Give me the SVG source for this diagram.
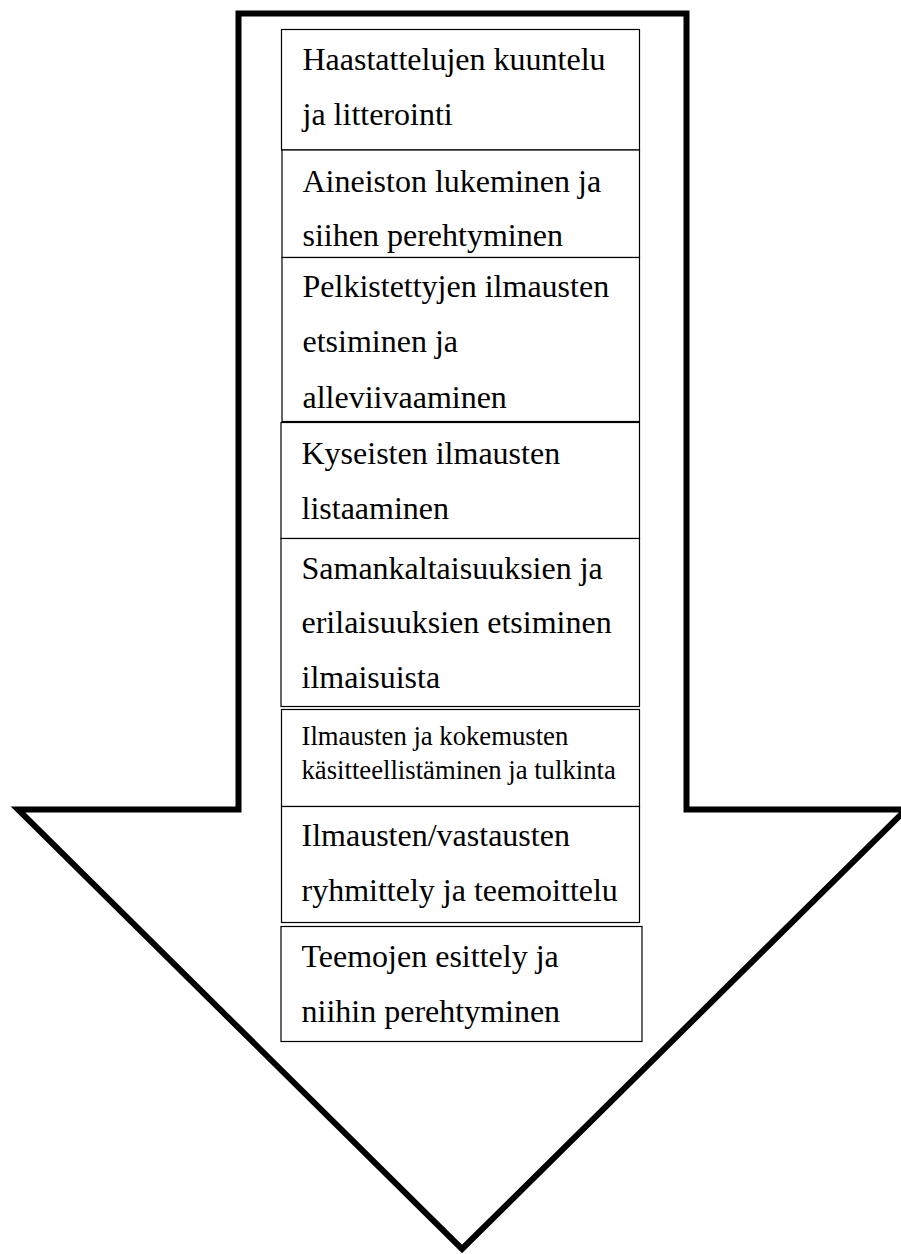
<svg xmlns="http://www.w3.org/2000/svg" width="901" height="1254" viewBox="0 0 901 1254">
<style>
.bx{fill:#fff;stroke:#000;stroke-width:1.2}
.t{font-family:"Liberation Serif","Times New Roman",serif;font-size:32px;fill:#000}
.s{font-family:"Liberation Serif","Times New Roman",serif;font-size:26.7px;fill:#000}
</style>
<rect width="901" height="1254" fill="#fff"/>
<g id="arrow">
<path d="M238.5,13.5 L686.5,13.5 L686.5,809.5 L906,809.5 L462,1249 L18,809.5 L238.5,809.5 Z" fill="#fff" stroke="#000" stroke-width="6"/>
</g>
<g id="connectors"></g>
<g id="n1"><rect class="bx" x="281.5" y="29.5" width="358" height="120.5"/>
<text class="t" x="302.5" y="69.5">Haastattelujen kuuntelu</text>
<text class="t" x="302.5" y="124.5">ja litterointi</text></g>
<g id="n2"><rect class="bx" x="282" y="150" width="357.5" height="107.5"/>
<text class="t" x="302.5" y="191.5">Aineiston lukeminen ja</text>
<text class="t" x="302.5" y="246">siihen perehtyminen</text></g>
<g id="n3"><rect class="bx" x="282" y="257.5" width="357.5" height="164"/>
<text class="t" x="302.5" y="296.5">Pelkistettyjen ilmausten</text>
<text class="t" x="302.5" y="352">etsiminen ja</text>
<text class="t" x="302.5" y="407.5">alleviivaaminen</text></g>
<g id="n4"><rect class="bx" x="281" y="422.5" width="358.5" height="116"/>
<text class="t" x="301.5" y="463.5">Kyseisten ilmausten</text>
<text class="t" x="301.5" y="518.5">listaaminen</text></g>
<g id="n5"><rect class="bx" x="281" y="538.5" width="358.5" height="168"/>
<text class="t" x="301.5" y="578.5">Samankaltaisuuksien ja</text>
<text class="t" x="301.5" y="632.5">erilaisuuksien etsiminen</text>
<text class="t" x="301.5" y="687.5">ilmaisuista</text></g>
<g id="n6"><rect class="bx" x="281.5" y="709.5" width="358" height="97"/>
<text class="s" x="301.5" y="745">Ilmausten ja kokemusten</text>
<text class="s" x="301.5" y="779">käsitteellistäminen ja tulkinta</text></g>
<g id="n7"><rect class="bx" x="281.5" y="806.5" width="358" height="116"/>
<text class="t" x="301.5" y="846">Ilmausten/vastausten</text>
<text class="t" x="301.5" y="901">ryhmittely ja teemoittelu</text></g>
<g id="n8"><rect class="bx" x="281" y="926.5" width="361" height="115"/>
<text class="t" x="301.5" y="967">Teemojen esittely ja</text>
<text class="t" x="301.5" y="1021.5">niihin perehtyminen</text></g>
</svg>
